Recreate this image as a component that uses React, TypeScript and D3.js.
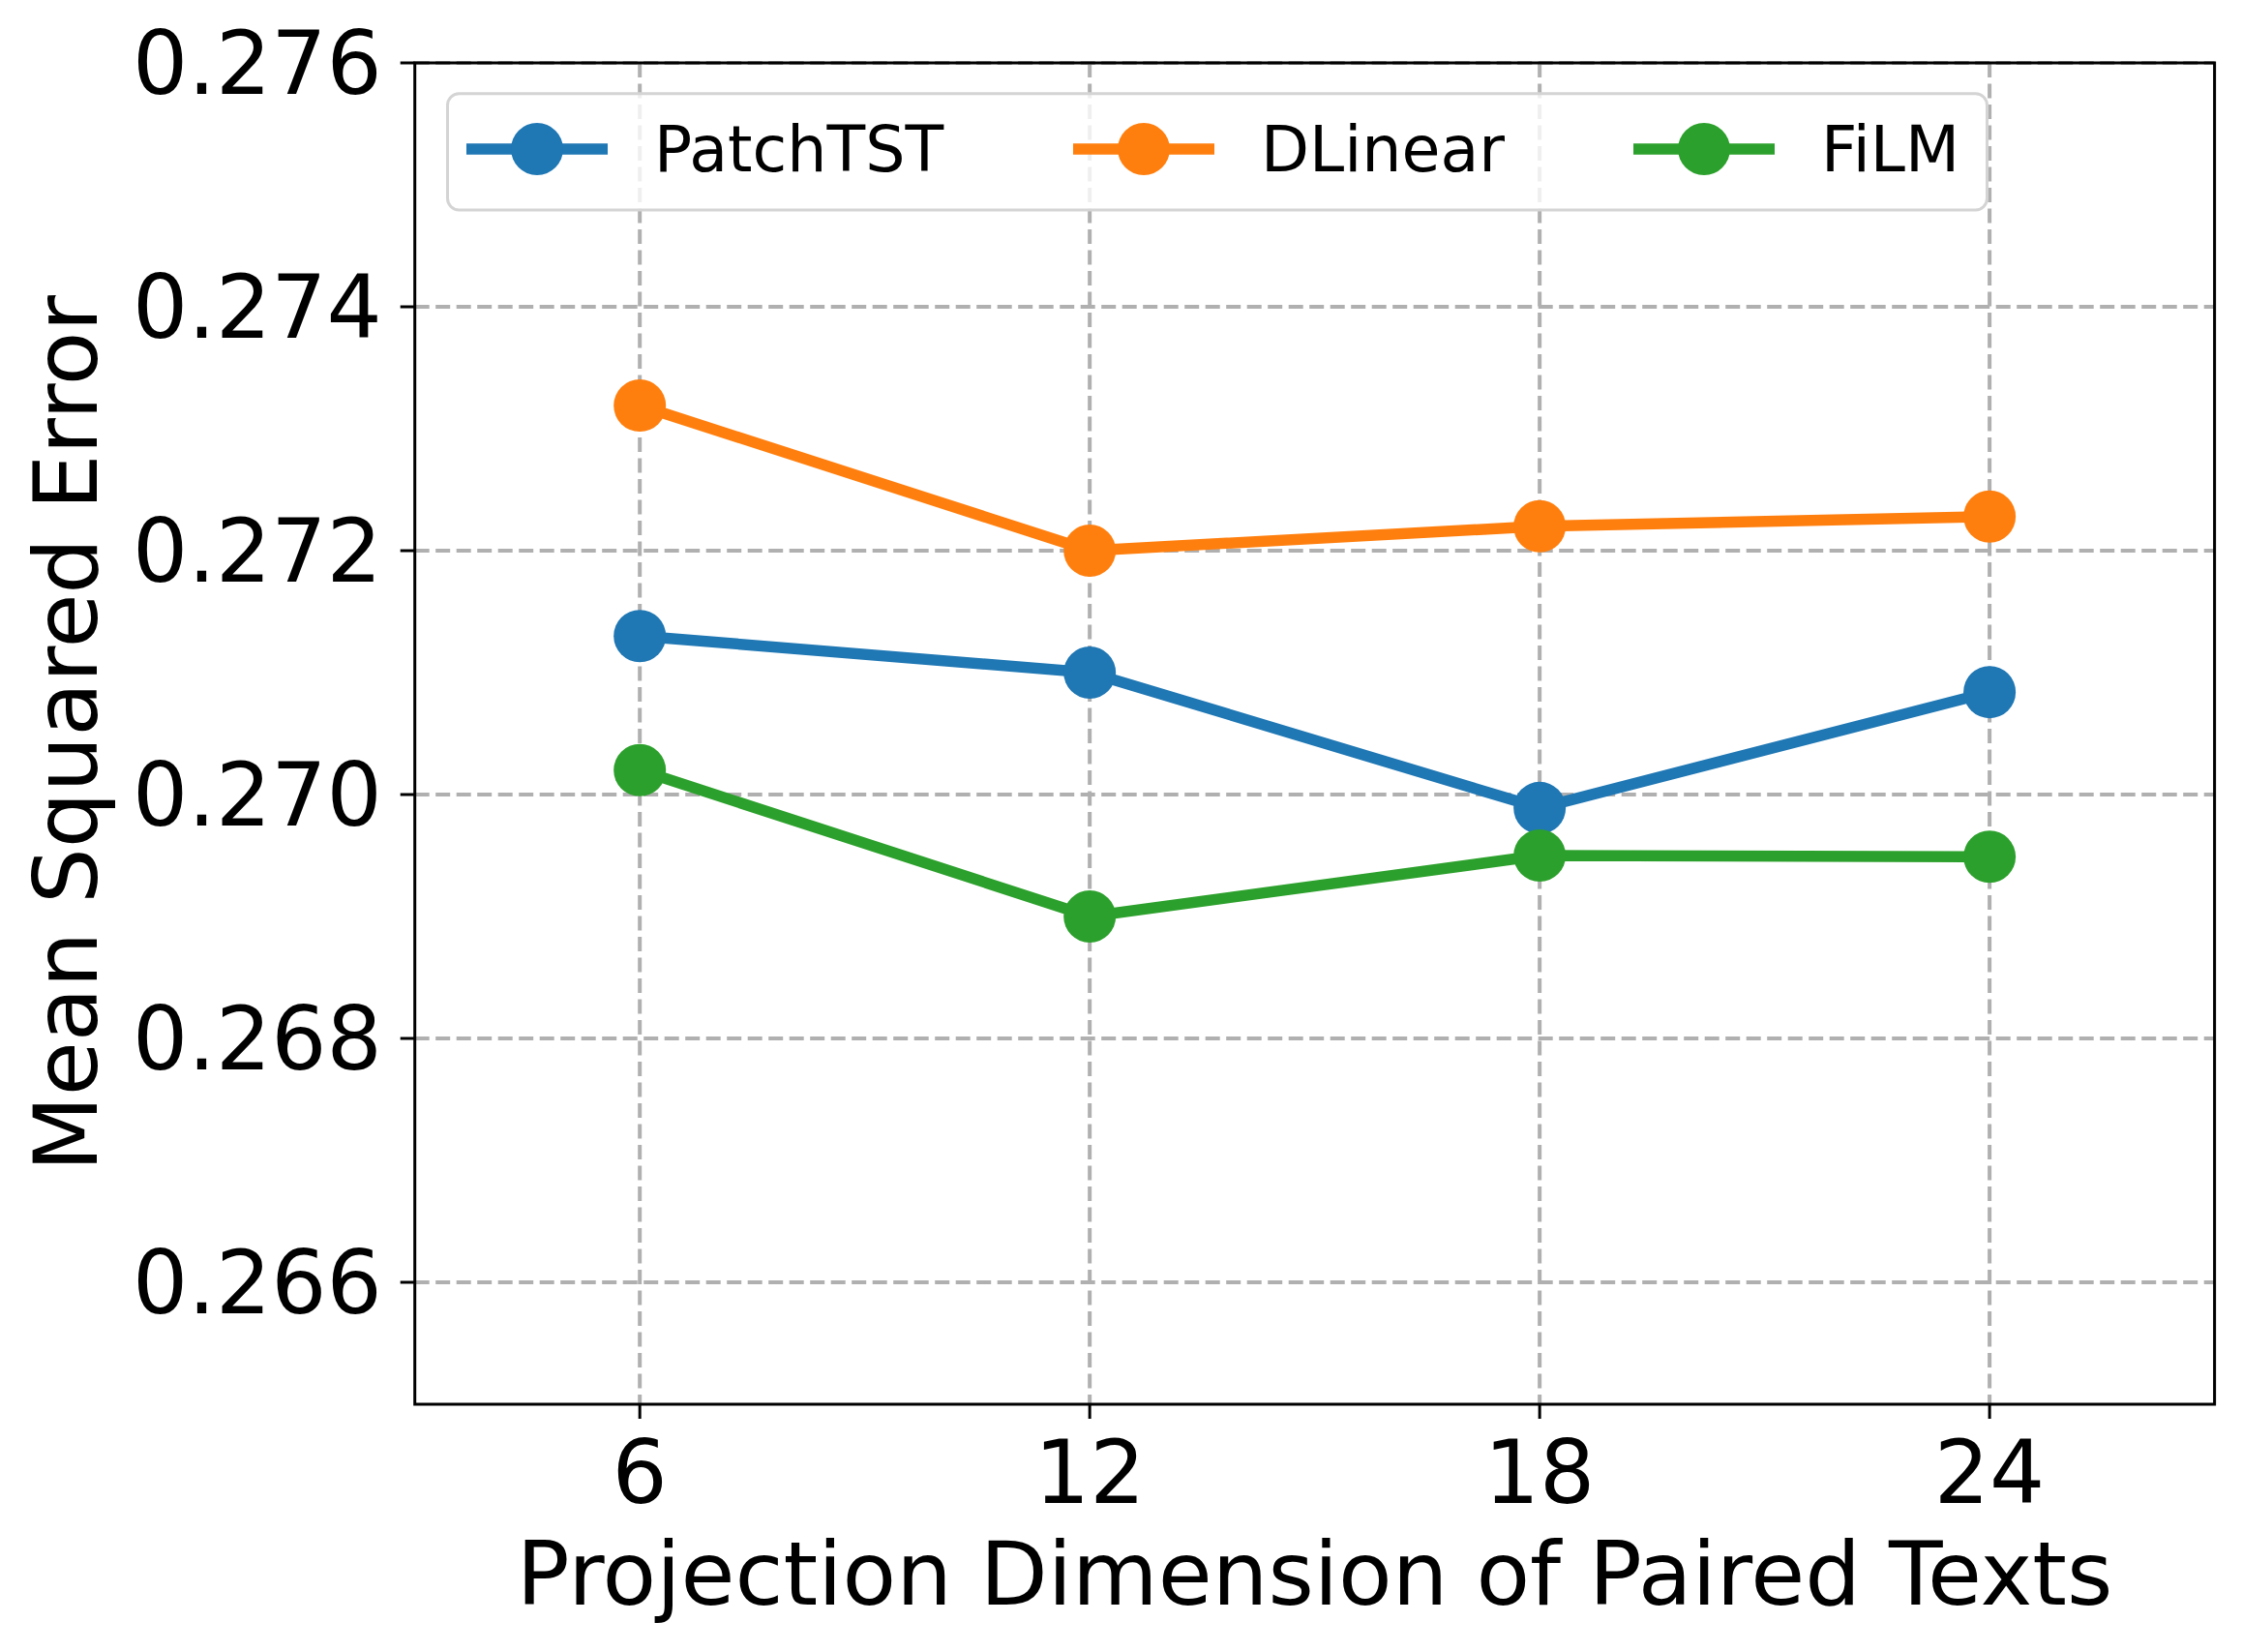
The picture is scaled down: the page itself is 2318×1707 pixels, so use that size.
import React from "react";
import * as d3 from "d3";

const xValues = [6, 12, 18, 24];
const patchTST = [0.2713, 0.271, 0.26989, 0.27084];
const dLinear = [0.27319, 0.272, 0.2722, 0.27228];
const fiLM = [0.2702, 0.269, 0.2695, 0.26949];
const seriesNames = ["PatchTST", "DLinear", "FiLM"];
const seriesColors = ["#1f77b4", "#ff7f0e", "#2ca02c"];
const yTicks = [0.266, 0.268, 0.27, 0.272, 0.274, 0.276];
const xLabel = "Projection Dimension of Paired Texts";
const yLabel = "Mean Squared Error";

const W = 2318;
const H = 1707;
const M = { left: 428.7, right: 2288.6, top: 65, bottom: 1451 };
const FONT = "'DejaVu Sans', sans-serif";
const TICK_FS = 90;
const LABEL_FS = 91;
const LEG_FS = 65;
const R = 27;
const LW = 11.5;

export default function App() {
  const x = d3.scaleLinear().domain([3, 27]).range([M.left, M.right]);
  const y = d3.scaleLinear().domain([0.265, 0.276]).range([M.bottom, M.top]);
  const line = d3
    .line<number>()
    .x((_, i) => x(xValues[i]))
    .y((d) => y(d));
  const allSeries = [patchTST, dLinear, fiLM];
  const fmt = d3.format(".3f");

  const legendBox = { x: 462.5, y: 96.7, w: 1591, h: 120.3 };
  const legendHandleX = [482, 1109, 1688];
  const legendY = 154;

  return (
    <svg
      width={W}
      height={H}
      style={{ position: "absolute", left: 0, top: 0, background: "#fff" }}
      fontFamily={FONT}
    >
      <rect x={0} y={0} width={W} height={H} fill="#fff" />
      {/* grid */}
      <g stroke="#b0b0b0" strokeWidth={4} strokeDasharray="15 6.5">
        {xValues.map((v) => (
          <line key={"gx" + v} x1={x(v)} x2={x(v)} y1={M.top} y2={M.bottom} />
        ))}
        {yTicks.map((v) => (
          <line key={"gy" + v} x1={M.left} x2={M.right} y1={y(v)} y2={y(v)} />
        ))}
      </g>
      {/* lines */}
      {allSeries.map((s, si) => (
        <g key={"s" + si}>
          <path
            d={line(s) || ""}
            fill="none"
            stroke={seriesColors[si]}
            strokeWidth={LW}
            strokeLinejoin="round"
            strokeLinecap="butt"
          />
          {s.map((v, i) => (
            <circle key={i} cx={x(xValues[i])} cy={y(v)} r={R} fill={seriesColors[si]} />
          ))}
        </g>
      ))}
      {/* spines */}
      <rect
        x={M.left}
        y={M.top}
        width={M.right - M.left}
        height={M.bottom - M.top}
        fill="none"
        stroke="#000"
        strokeWidth={3}
      />
      {/* y ticks */}
      {yTicks.map((v) => (
        <g key={"yt" + v}>
          <line x1={M.left - 15} x2={M.left} y1={y(v)} y2={y(v)} stroke="#000" strokeWidth={3} />
          <text
            x={M.left - 34}
            y={y(v)}
            dy="0.36em"
            textAnchor="end"
            fontSize={TICK_FS}
            fill="#000"
          >
            {fmt(v)}
          </text>
        </g>
      ))}
      {/* x ticks */}
      {xValues.map((v) => (
        <g key={"xt" + v}>
          <line x1={x(v)} x2={x(v)} y1={M.bottom} y2={M.bottom + 15} stroke="#000" strokeWidth={3} />
          <text x={x(v)} y={1553} textAnchor="middle" fontSize={TICK_FS} fill="#000">
            {v}
          </text>
        </g>
      ))}
      {/* axis labels */}
      <text
        x={(M.left + M.right) / 2}
        y={1658}
        textAnchor="middle"
        fontSize={LABEL_FS}
        fill="#000"
      >
        {xLabel}
      </text>
      <text
        transform={`translate(100, ${(M.top + M.bottom) / 2}) rotate(-90)`}
        textAnchor="middle"
        fontSize={LABEL_FS}
        fill="#000"
      >
        {yLabel}
      </text>
      {/* legend */}
      <rect
        x={legendBox.x}
        y={legendBox.y}
        width={legendBox.w}
        height={legendBox.h}
        rx={12}
        fill="#fff"
        fillOpacity={0.8}
        stroke="#d4d4d4"
        strokeWidth={3}
      />
      {seriesNames.map((name, i) => (
        <g key={"leg" + name}>
          <line
            x1={legendHandleX[i]}
            x2={legendHandleX[i] + 146}
            y1={legendY}
            y2={legendY}
            stroke={seriesColors[i]}
            strokeWidth={LW}
          />
          <circle cx={legendHandleX[i] + 73} cy={legendY} r={R} fill={seriesColors[i]} />
          <text
            x={legendHandleX[i] + 194}
            y={legendY}
            dy="0.36em"
            fontSize={LEG_FS}
            fill="#000"
          >
            {name}
          </text>
        </g>
      ))}
    </svg>
  );
}
